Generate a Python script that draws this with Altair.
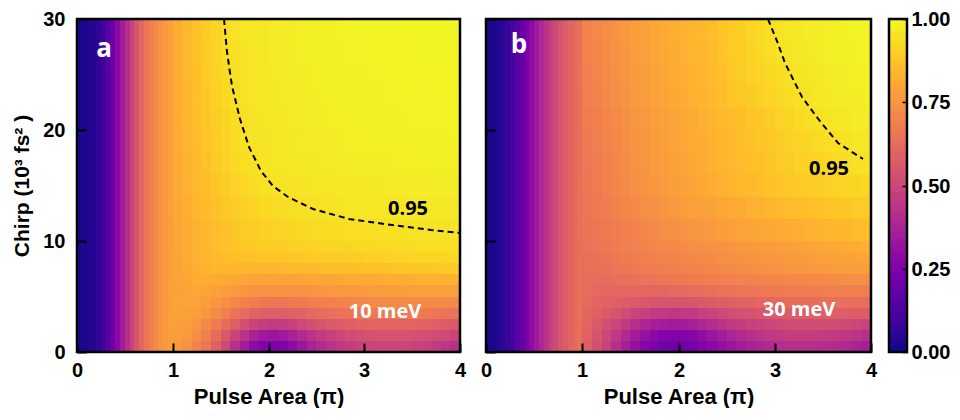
import altair as alt
import pandas as pd

# ---------------- data ----------------
X_EDGES = [0.0, 0.05, 0.1, 0.15, 0.2, 0.25, 0.3, 0.35, 0.4, 0.45, 0.5,
           0.55, 0.6, 0.65, 0.7, 0.75, 0.8, 0.85, 0.9, 0.95, 1.0,
           1.1, 1.2, 1.3, 1.4, 1.5, 1.6, 1.7, 1.8, 1.9, 2.0,
           2.1, 2.2, 2.3, 2.4, 2.5, 2.6, 2.7, 2.8, 2.9, 3.0,
           3.1, 3.2, 3.3, 3.4, 3.5, 3.6, 3.7, 3.8, 3.9, 4.0]
Y_EDGES = [0, 1, 2, 3, 4, 5, 6, 7, 8, 9, 10, 12, 14, 16, 18, 20, 22, 24, 26, 28, 30]

# panel a (10 meV): x < 1 columns (same for every chirp row)
LEFT_A = [0.02, 0.02, 0.03, 0.04, 0.06, 0.10, 0.15, 0.21, 0.28, 0.35,
          0.42, 0.49, 0.55, 0.61, 0.655, 0.69, 0.72, 0.745, 0.765, 0.78]
# x = 1.05 ... 3.95, rows from chirp 0 (bottom) to 30 (top)
RIGHT_A = [
    [0.76, 0.74, 0.70, 0.66, 0.59, 0.51, 0.42, 0.35, 0.29, 0.26, 0.25, 0.26, 0.29, 0.33, 0.37,
     0.40, 0.43, 0.45, 0.47, 0.485, 0.49, 0.50, 0.50, 0.50, 0.495, 0.485, 0.475, 0.46, 0.44, 0.42],
    [0.77, 0.76, 0.73, 0.69, 0.63, 0.56, 0.49, 0.43, 0.37, 0.34, 0.33, 0.34, 0.37, 0.40, 0.43,
     0.46, 0.48, 0.50, 0.515, 0.525, 0.535, 0.54, 0.54, 0.54, 0.54, 0.535, 0.525, 0.515, 0.505, 0.49],
    [0.78, 0.77, 0.75, 0.72, 0.68, 0.63, 0.58, 0.53, 0.49, 0.47, 0.46, 0.47, 0.485, 0.505, 0.53,
     0.55, 0.565, 0.575, 0.585, 0.595, 0.60, 0.60, 0.60, 0.60, 0.60, 0.60, 0.595, 0.585, 0.575, 0.565],
    [0.79, 0.785, 0.775, 0.755, 0.725, 0.69, 0.655, 0.625, 0.60, 0.585, 0.58, 0.58, 0.59, 0.60, 0.615,
     0.625, 0.635, 0.645, 0.655, 0.66, 0.665, 0.67, 0.67, 0.67, 0.67, 0.67, 0.665, 0.66, 0.655, 0.65],
    [0.79, 0.795, 0.79, 0.775, 0.755, 0.735, 0.715, 0.695, 0.68, 0.665, 0.66, 0.66, 0.665, 0.675, 0.685,
     0.69, 0.695, 0.70, 0.705, 0.71, 0.715, 0.72, 0.72, 0.72, 0.72, 0.72, 0.72, 0.72, 0.72, 0.72],
    [0.785, 0.795, 0.80, 0.795, 0.785, 0.775, 0.765, 0.755, 0.745, 0.74, 0.74, 0.74, 0.74, 0.745, 0.75,
     0.755, 0.76, 0.76, 0.76, 0.765, 0.77, 0.77, 0.77, 0.775, 0.78, 0.78, 0.78, 0.78, 0.78, 0.78],
    [0.79, 0.80, 0.815, 0.82, 0.815, 0.81, 0.805, 0.80, 0.795, 0.79, 0.79, 0.79, 0.79, 0.795, 0.80,
     0.80, 0.80, 0.805, 0.81, 0.81, 0.81, 0.815, 0.82, 0.82, 0.82, 0.825, 0.83, 0.83, 0.83, 0.83],
    [0.79, 0.805, 0.82, 0.83, 0.84, 0.84, 0.84, 0.84, 0.84, 0.84, 0.84, 0.845, 0.85, 0.85, 0.85,
     0.855, 0.86, 0.86, 0.86, 0.865, 0.87, 0.87, 0.87, 0.875, 0.88, 0.88, 0.88, 0.885, 0.89, 0.89],
    [0.795, 0.81, 0.825, 0.84, 0.85, 0.86, 0.865, 0.87, 0.87, 0.875, 0.88, 0.88, 0.885, 0.885, 0.89,
     0.89, 0.895, 0.895, 0.90, 0.90, 0.905, 0.905, 0.91, 0.91, 0.915, 0.915, 0.92, 0.92, 0.92, 0.925],
    [0.80, 0.815, 0.83, 0.845, 0.86, 0.87, 0.88, 0.885, 0.89, 0.895, 0.90, 0.90, 0.905, 0.905, 0.91,
     0.915, 0.915, 0.92, 0.92, 0.925, 0.925, 0.93, 0.93, 0.935, 0.935, 0.94, 0.94, 0.94, 0.94, 0.945],
    [0.80, 0.815, 0.83, 0.845, 0.86, 0.87, 0.88, 0.89, 0.90, 0.905, 0.91, 0.915, 0.92, 0.925, 0.928,
     0.93, 0.933, 0.935, 0.937, 0.94, 0.941, 0.943, 0.945, 0.946, 0.947, 0.948, 0.949, 0.95, 0.951, 0.952],
    [0.805, 0.82, 0.84, 0.855, 0.87, 0.885, 0.895, 0.905, 0.915, 0.925, 0.93, 0.935, 0.94, 0.945, 0.948,
     0.951, 0.953, 0.955, 0.956, 0.957, 0.958, 0.959, 0.96, 0.96, 0.961, 0.962, 0.963, 0.963, 0.964, 0.965],
    [0.81, 0.825, 0.845, 0.86, 0.88, 0.895, 0.91, 0.922, 0.933, 0.942, 0.948, 0.951, 0.953, 0.955, 0.957,
     0.958, 0.959, 0.961, 0.962, 0.963, 0.964, 0.965, 0.966, 0.967, 0.968, 0.969, 0.97, 0.97, 0.971, 0.972],
    [0.81, 0.83, 0.85, 0.87, 0.89, 0.91, 0.925, 0.937, 0.946, 0.952, 0.956, 0.959, 0.961, 0.963, 0.965,
     0.966, 0.967, 0.968, 0.97, 0.971, 0.972, 0.973, 0.974, 0.975, 0.975, 0.976, 0.977, 0.977, 0.978, 0.978],
    [0.815, 0.835, 0.855, 0.875, 0.895, 0.915, 0.93, 0.942, 0.95, 0.955, 0.96, 0.962, 0.964, 0.966, 0.969,
     0.97, 0.972, 0.973, 0.975, 0.976, 0.977, 0.978, 0.979, 0.98, 0.98, 0.981, 0.982, 0.983, 0.983, 0.984],
    [0.815, 0.84, 0.86, 0.88, 0.90, 0.92, 0.935, 0.945, 0.952, 0.957, 0.962, 0.964, 0.966, 0.969, 0.971,
     0.973, 0.975, 0.976, 0.978, 0.979, 0.98, 0.981, 0.982, 0.983, 0.984, 0.984, 0.985, 0.986, 0.986, 0.987],
    [0.82, 0.84, 0.865, 0.885, 0.905, 0.925, 0.94, 0.948, 0.954, 0.959, 0.964, 0.966, 0.968, 0.971, 0.973,
     0.975, 0.977, 0.978, 0.98, 0.981, 0.982, 0.983, 0.984, 0.985, 0.986, 0.986, 0.987, 0.988, 0.988, 0.989],
    [0.82, 0.845, 0.865, 0.89, 0.91, 0.93, 0.943, 0.95, 0.956, 0.961, 0.966, 0.968, 0.97, 0.973, 0.975,
     0.977, 0.979, 0.98, 0.982, 0.983, 0.984, 0.985, 0.986, 0.987, 0.988, 0.988, 0.989, 0.99, 0.99, 0.991],
    [0.82, 0.845, 0.87, 0.89, 0.913, 0.933, 0.946, 0.952, 0.958, 0.963, 0.968, 0.97, 0.972, 0.975, 0.977,
     0.979, 0.981, 0.982, 0.984, 0.985, 0.986, 0.987, 0.988, 0.989, 0.99, 0.99, 0.991, 0.992, 0.992, 0.993],
    [0.82, 0.845, 0.87, 0.895, 0.915, 0.936, 0.948, 0.954, 0.96, 0.965, 0.97, 0.972, 0.974, 0.977, 0.979,
     0.981, 0.983, 0.984, 0.986, 0.987, 0.988, 0.989, 0.99, 0.991, 0.992, 0.992, 0.993, 0.994, 0.994, 0.995],
]

# panel b (30 meV)
LEFT_B = [0.02, 0.02, 0.03, 0.05, 0.08, 0.11, 0.15, 0.19, 0.24, 0.29,
          0.34, 0.39, 0.43, 0.475, 0.51, 0.545, 0.575, 0.60, 0.62, 0.64]
RIGHT_B = [
    [0.58, 0.53, 0.48, 0.42, 0.36, 0.31, 0.27, 0.24, 0.22, 0.21, 0.215, 0.23, 0.255, 0.28, 0.305,
     0.33, 0.35, 0.37, 0.385, 0.40, 0.41, 0.42, 0.42, 0.42, 0.415, 0.41, 0.40, 0.39, 0.375, 0.36],
    [0.59, 0.545, 0.50, 0.455, 0.40, 0.355, 0.315, 0.28, 0.26, 0.255, 0.26, 0.275, 0.30, 0.33, 0.355,
     0.38, 0.40, 0.42, 0.44, 0.45, 0.46, 0.47, 0.47, 0.47, 0.465, 0.46, 0.455, 0.445, 0.435, 0.42],
    [0.60, 0.565, 0.53, 0.50, 0.46, 0.42, 0.385, 0.36, 0.35, 0.345, 0.35, 0.365, 0.385, 0.41, 0.43,
     0.45, 0.465, 0.48, 0.49, 0.50, 0.51, 0.515, 0.52, 0.52, 0.52, 0.52, 0.515, 0.51, 0.50, 0.49],
    [0.61, 0.59, 0.565, 0.545, 0.52, 0.495, 0.475, 0.46, 0.45, 0.445, 0.45, 0.46, 0.475, 0.49, 0.505,
     0.52, 0.53, 0.54, 0.55, 0.56, 0.565, 0.57, 0.575, 0.58, 0.58, 0.58, 0.58, 0.58, 0.575, 0.57],
    [0.62, 0.605, 0.595, 0.585, 0.575, 0.565, 0.555, 0.55, 0.545, 0.545, 0.545, 0.55, 0.56, 0.57, 0.58,
     0.59, 0.595, 0.60, 0.61, 0.615, 0.62, 0.625, 0.63, 0.63, 0.63, 0.635, 0.635, 0.635, 0.635, 0.63],
    [0.625, 0.615, 0.61, 0.61, 0.61, 0.61, 0.61, 0.61, 0.61, 0.615, 0.62, 0.625, 0.635, 0.64, 0.645,
     0.65, 0.655, 0.66, 0.665, 0.67, 0.67, 0.675, 0.675, 0.68, 0.68, 0.685, 0.685, 0.685, 0.685, 0.685],
    [0.63, 0.63, 0.63, 0.635, 0.64, 0.645, 0.65, 0.655, 0.66, 0.665, 0.67, 0.675, 0.68, 0.685, 0.69,
     0.695, 0.70, 0.70, 0.705, 0.71, 0.71, 0.715, 0.715, 0.72, 0.72, 0.725, 0.725, 0.73, 0.73, 0.73],
    [0.635, 0.64, 0.645, 0.655, 0.66, 0.67, 0.675, 0.68, 0.685, 0.69, 0.695, 0.70, 0.705, 0.71, 0.715,
     0.72, 0.725, 0.73, 0.735, 0.74, 0.745, 0.75, 0.755, 0.76, 0.76, 0.765, 0.77, 0.77, 0.775, 0.775],
    [0.64, 0.645, 0.655, 0.665, 0.675, 0.68, 0.69, 0.695, 0.70, 0.705, 0.71, 0.715, 0.72, 0.725, 0.73,
     0.735, 0.74, 0.745, 0.75, 0.755, 0.76, 0.765, 0.77, 0.775, 0.78, 0.785, 0.79, 0.79, 0.795, 0.80],
    [0.645, 0.655, 0.665, 0.675, 0.685, 0.695, 0.70, 0.71, 0.715, 0.72, 0.725, 0.73, 0.735, 0.74, 0.745,
     0.75, 0.76, 0.765, 0.77, 0.775, 0.78, 0.785, 0.79, 0.795, 0.80, 0.805, 0.81, 0.815, 0.82, 0.825],
    [0.65, 0.66, 0.67, 0.68, 0.69, 0.70, 0.71, 0.72, 0.73, 0.735, 0.745, 0.75, 0.76, 0.765, 0.775,
     0.78, 0.79, 0.795, 0.80, 0.805, 0.81, 0.815, 0.82, 0.825, 0.83, 0.835, 0.84, 0.845, 0.855, 0.86],
    [0.655, 0.67, 0.68, 0.695, 0.71, 0.72, 0.73, 0.74, 0.75, 0.76, 0.77, 0.78, 0.785, 0.79, 0.80,
     0.81, 0.815, 0.825, 0.83, 0.84, 0.845, 0.855, 0.86, 0.865, 0.87, 0.875, 0.88, 0.885, 0.89, 0.895],
    [0.66, 0.675, 0.69, 0.705, 0.72, 0.73, 0.745, 0.755, 0.765, 0.775, 0.785, 0.795, 0.805, 0.815, 0.825,
     0.835, 0.845, 0.85, 0.86, 0.87, 0.875, 0.885, 0.89, 0.895, 0.90, 0.905, 0.91, 0.915, 0.92, 0.925],
    [0.665, 0.68, 0.695, 0.71, 0.725, 0.74, 0.75, 0.765, 0.775, 0.785, 0.795, 0.805, 0.815, 0.825, 0.835,
     0.845, 0.855, 0.865, 0.87, 0.88, 0.89, 0.895, 0.905, 0.91, 0.915, 0.925, 0.93, 0.935, 0.943, 0.948],
    [0.67, 0.685, 0.70, 0.715, 0.73, 0.745, 0.755, 0.77, 0.78, 0.79, 0.80, 0.81, 0.82, 0.83, 0.84,
     0.85, 0.86, 0.87, 0.88, 0.885, 0.895, 0.905, 0.915, 0.922, 0.93, 0.937, 0.944, 0.951, 0.957, 0.962],
    [0.675, 0.69, 0.705, 0.72, 0.735, 0.75, 0.76, 0.775, 0.785, 0.795, 0.805, 0.815, 0.825, 0.835, 0.845,
     0.855, 0.865, 0.875, 0.885, 0.895, 0.91, 0.92, 0.93, 0.938, 0.946, 0.952, 0.958, 0.963, 0.968, 0.972],
    [0.685, 0.70, 0.715, 0.73, 0.745, 0.76, 0.77, 0.785, 0.795, 0.805, 0.815, 0.825, 0.835, 0.845, 0.86,
     0.875, 0.885, 0.895, 0.905, 0.915, 0.925, 0.935, 0.943, 0.95, 0.956, 0.961, 0.966, 0.97, 0.974, 0.978],
    [0.69, 0.705, 0.72, 0.735, 0.75, 0.765, 0.775, 0.79, 0.80, 0.81, 0.82, 0.83, 0.84, 0.85, 0.865,
     0.885, 0.895, 0.905, 0.915, 0.925, 0.935, 0.945, 0.952, 0.958, 0.963, 0.968, 0.972, 0.976, 0.98, 0.984],
    [0.695, 0.71, 0.725, 0.74, 0.755, 0.77, 0.78, 0.795, 0.805, 0.815, 0.825, 0.835, 0.845, 0.855, 0.875,
     0.89, 0.90, 0.912, 0.924, 0.937, 0.948, 0.955, 0.961, 0.966, 0.971, 0.975, 0.979, 0.982, 0.985, 0.988],
    [0.70, 0.715, 0.73, 0.745, 0.76, 0.775, 0.785, 0.80, 0.81, 0.82, 0.83, 0.84, 0.85, 0.86, 0.875,
     0.89, 0.90, 0.915, 0.928, 0.942, 0.951, 0.958, 0.964, 0.969, 0.974, 0.978, 0.981, 0.984, 0.987, 0.99],
]

# 0.95 contour lines
CONTOUR_A_X = [1.54, 1.57, 1.62, 1.70, 1.80, 1.92, 2.05, 2.20, 2.46, 2.84, 3.29, 3.70, 4.00]
CONTOUR_A_Y = [30.0, 27.0, 24.0, 21.0, 18.5, 16.3, 15.0, 14.0, 12.9, 12.0, 11.4, 10.95, 10.7]
CONTOUR_B_X = [2.93, 3.02, 3.11, 3.28, 3.46, 3.66, 3.92]
CONTOUR_B_Y = [30.0, 28.0, 26.0, 23.0, 20.9, 18.8, 17.4]

X_TICKS = [0, 1, 2, 3, 4]
Y_TICKS = [0, 10, 20, 30]
CBAR_TICKS = [0.0, 0.25, 0.5, 0.75, 1.0]
# colour-bar steps (the colour key itself, 0 -> 1)
CBAR_STEPS = [0.00, 0.02, 0.04, 0.06, 0.08, 0.10, 0.12, 0.14, 0.16, 0.18,
              0.20, 0.22, 0.24, 0.26, 0.28, 0.30, 0.32, 0.34, 0.36, 0.38,
              0.40, 0.42, 0.44, 0.46, 0.48, 0.50, 0.52, 0.54, 0.56, 0.58,
              0.60, 0.62, 0.64, 0.66, 0.68, 0.70, 0.72, 0.74, 0.76, 0.78,
              0.80, 0.82, 0.84, 0.86, 0.88, 0.90, 0.92, 0.94, 0.96, 0.98, 1.00]

PANEL_TAGS = ["a", "b"]
TAG_X = [0.28, 0.34]
TAG_Y = [27.3, 27.7]
ENERGY_TEXT = ["10 meV", "30 meV"]
ENERGY_X = [3.22, 3.25]
ENERGY_Y = [3.6, 3.8]
LEVEL_TEXT = ["0.95", "0.95"]
LEVEL_X = [3.46, 3.56]
LEVEL_Y = [12.9, 16.5]

# ---------------- chart ----------------
H = 333
WA = 383
WB = 385
CBW = 18
TICK = 9
AXFONT = "Liberation Sans"
ANNFONT = "Open Sans"
cscale = alt.Scale(scheme="plasma", domain=[0, 1])
xscale = alt.Scale(domain=[0, 4], nice=False, zero=False, round=True)
yscale = alt.Scale(domain=[0, 30], nice=False, zero=False, round=True)
cbscale = alt.Scale(domain=[0, 1], nice=False, zero=False, round=True)

# ticks point into the plot: axis moved inward by the tick length
XAXIS = alt.Axis(values=X_TICKS, format="d", ticks=True, tickSize=TICK, tickWidth=2,
                 tickColor="black", offset=-TICK, zindex=1, domain=False, grid=False,
                 labelFont=AXFONT, labelFontSize=20, labelFontWeight="bold",
                 labelPadding=8, labelFlush=False, labelOverlap=False, labelColor="black",
                 title="Pulse Area (π)", titleFont=AXFONT, titleFontSize=22,
                 titleFontWeight="bold", titlePadding=6, titleColor="black")
YAXIS_A = alt.Axis(values=Y_TICKS, format="d", ticks=True, tickSize=TICK, tickWidth=2,
                   tickColor="black", offset=-TICK, zindex=1, domain=False, grid=False,
                   labelFont=AXFONT, labelFontSize=20, labelFontWeight="bold",
                   labelPadding=12, labelFlush=False, labelOverlap=False, labelColor="black",
                   title="Chirp (10³ fs² )", titleFont=AXFONT, titleFontSize=21,
                   titleFontWeight="bold", titlePadding=10, titleColor="black")
YAXIS_B = alt.Axis(values=Y_TICKS, labels=False, title=None, ticks=True, tickSize=TICK,
                   tickWidth=2, tickColor="black", offset=-TICK, zindex=1,
                   domain=False, grid=False)
CBAXIS = alt.Axis(orient="right", values=CBAR_TICKS, format=".2f", ticks=True, tickSize=5,
                  tickWidth=1.5, tickColor="black", offset=-5, zindex=1, domain=False,
                  grid=False, labelFont=AXFONT, labelFontSize=20, labelFontWeight="bold",
                  labelPadding=4, labelFlush=False, labelOverlap=False, labelColor="black",
                  title=None)


def grid_df(left, right):
    rows = []
    for j, r in enumerate(right):
        vals = left + r
        for i, v in enumerate(vals):
            rows.append(dict(x0=X_EDGES[i], x1=X_EDGES[i + 1],
                             y0=Y_EDGES[j], y1=Y_EDGES[j + 1], v=v))
    return pd.DataFrame(rows)


def frame_layer(width):
    return alt.Chart(pd.DataFrame({"f": [1]})).mark_rect(
        fillOpacity=0, stroke="black", strokeWidth=2.5).encode(
        x=alt.value(0), x2=alt.value(width), y=alt.value(0), y2=alt.value(H))


def panel(k, left, right, cx, cy, width, yaxis):
    def X(f):
        return alt.X(f, scale=xscale, axis=XAXIS)

    def Y(f):
        return alt.Y(f, scale=yscale, axis=yaxis)

    heat = alt.Chart(grid_df(left, right)).mark_rect().encode(
        x=X("x0:Q"), x2="x1:Q", y=Y("y0:Q"), y2="y1:Q",
        color=alt.Color("v:Q", scale=cscale, legend=None),
    )
    cdf = pd.DataFrame({"cx": cx, "cy": cy, "i": list(range(len(cx)))})
    contour = alt.Chart(cdf).mark_line(color="black", strokeWidth=2, strokeDash=[6, 4],
                                       clip=True).encode(
        x=X("cx:Q"), y=Y("cy:Q"), order="i:Q")
    tag = alt.Chart(pd.DataFrame({"tx": [TAG_X[k]], "ty": [TAG_Y[k]], "s": [PANEL_TAGS[k]]})).mark_text(
        font=ANNFONT, fontSize=26, fontWeight="bold", color="white").encode(
        x=X("tx:Q"), y=Y("ty:Q"), text="s:N")
    en = alt.Chart(pd.DataFrame({"tx": [ENERGY_X[k]], "ty": [ENERGY_Y[k]], "s": [ENERGY_TEXT[k]]})).mark_text(
        font=ANNFONT, fontSize=20, fontWeight="bold", color="white").encode(
        x=X("tx:Q"), y=Y("ty:Q"), text="s:N")
    lv = alt.Chart(pd.DataFrame({"tx": [LEVEL_X[k]], "ty": [LEVEL_Y[k]], "s": [LEVEL_TEXT[k]]})).mark_text(
        font=ANNFONT, fontSize=20, fontWeight="bold", color="black").encode(
        x=X("tx:Q"), y=Y("ty:Q"), text="s:N")
    return alt.layer(heat, frame_layer(width), contour, tag, en, lv).properties(
        width=width, height=H)


pa = panel(0, LEFT_A, RIGHT_A, CONTOUR_A_X, CONTOUR_A_Y, WA, YAXIS_A)
pb = panel(1, LEFT_B, RIGHT_B, CONTOUR_B_X, CONTOUR_B_Y, WB, YAXIS_B)

# colour bar built from the same colour scale
cb_df = pd.DataFrame({"lo": CBAR_STEPS[:-1], "hi": CBAR_STEPS[1:]})
cb_df["m"] = (cb_df["lo"] + cb_df["hi"]) / 2
cb_rects = alt.Chart(cb_df).mark_rect().encode(
    y=alt.Y("lo:Q", scale=cbscale, axis=CBAXIS), y2="hi:Q",
    x=alt.value(0), x2=alt.value(CBW),
    color=alt.Color("m:Q", scale=cscale, legend=None),
)
cbar = alt.layer(cb_rects, frame_layer(CBW)).properties(width=CBW, height=H)

panels = alt.hconcat(pa, pb, spacing=12)
chart = alt.hconcat(panels, cbar, spacing=9).resolve_scale(color="shared").properties(
    padding={"left": 3, "top": 0, "right": 0, "bottom": 0}
).configure_view(stroke=None).configure(background="white")

chart.save("out.html", embed_options={"renderer": "svg", "actions": False})
